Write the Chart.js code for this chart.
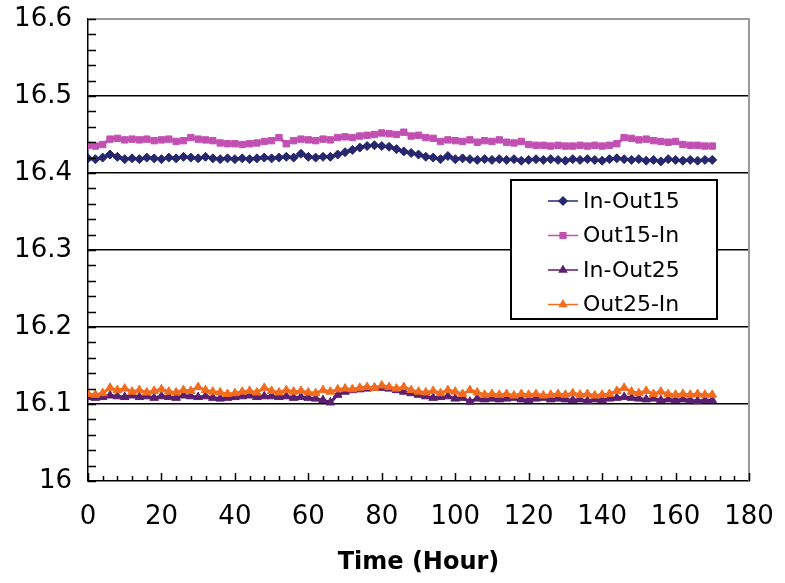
<!DOCTYPE html>
<html>
<head>
<meta charset="utf-8">
<script src="https://cdn.jsdelivr.net/npm/chart.js@4.4.1/dist/chart.umd.min.js"></script>
<style>
  html, body { margin: 0; padding: 0; background: #fff; }
  #wrap { position: relative; width: 785px; height: 583px; }
</style>
</head>
<body>
<div id="wrap"><canvas id="timeChart" width="785" height="583"></canvas></div>
<script>
// 时间轴（小时）
const hours = [
  0, 2, 4, 6, 8, 10, 12, 14, 16, 18, 20, 22, 24, 26, 28, 30, 32, 34, 36, 38,
  40, 42, 44, 46, 48, 50, 52, 54, 56, 58, 60, 62, 64, 66, 68, 70, 72, 74, 76, 78,
  80, 82, 84, 86, 88, 90, 92, 94, 96, 98, 100, 102, 104, 106, 108, 110, 112, 114, 116, 118,
  120, 122, 124, 126, 128, 130, 132, 134, 136, 138, 140, 142, 144, 146, 148, 150, 152, 154, 156, 158,
  160, 162, 164, 166, 168, 170
];

// 各系列数值
const inOut15 = [
  16.419, 16.418, 16.420, 16.424, 16.421, 16.418, 16.419, 16.418, 16.420, 16.419,
  16.418, 16.420, 16.419, 16.421, 16.420, 16.419, 16.421, 16.419, 16.418, 16.419,
  16.418, 16.419, 16.418, 16.419, 16.420, 16.419, 16.420, 16.421, 16.420, 16.425,
  16.421, 16.420, 16.421, 16.421, 16.424, 16.427, 16.430, 16.433, 16.435, 16.436,
  16.435, 16.434, 16.431, 16.428, 16.426, 16.424, 16.421, 16.420, 16.418, 16.422,
  16.418, 16.419, 16.418, 16.417, 16.418, 16.417, 16.418, 16.417, 16.418, 16.416,
  16.417, 16.418, 16.417, 16.418, 16.417, 16.416, 16.418, 16.417, 16.418, 16.417,
  16.416, 16.418, 16.419, 16.418, 16.417, 16.418, 16.416, 16.417, 16.415, 16.418,
  16.417, 16.416, 16.417, 16.416, 16.417, 16.417
];
const out15In = [
  16.436, 16.435, 16.437, 16.444, 16.445, 16.443, 16.444, 16.443, 16.444, 16.442,
  16.443, 16.444, 16.441, 16.442, 16.446, 16.444, 16.443, 16.442, 16.439, 16.438,
  16.438, 16.437, 16.438, 16.439, 16.441, 16.442, 16.446, 16.438, 16.442, 16.444,
  16.443, 16.442, 16.444, 16.443, 16.446, 16.447, 16.446, 16.448, 16.449, 16.450,
  16.452, 16.451, 16.450, 16.453, 16.448, 16.449, 16.446, 16.445, 16.441, 16.443,
  16.442, 16.441, 16.443, 16.440, 16.442, 16.441, 16.443, 16.440, 16.439, 16.441,
  16.437, 16.436, 16.436, 16.435, 16.436, 16.435, 16.435, 16.436, 16.435, 16.436,
  16.435, 16.436, 16.438, 16.446, 16.445, 16.443, 16.444, 16.442, 16.441, 16.440,
  16.441, 16.437, 16.436, 16.436, 16.435, 16.435
];
const inOut25 = [
  16.109, 16.108, 16.109, 16.111, 16.110, 16.109, 16.111, 16.109, 16.110, 16.108,
  16.110, 16.109, 16.108, 16.111, 16.110, 16.109, 16.110, 16.108, 16.107, 16.108,
  16.109, 16.110, 16.111, 16.109, 16.110, 16.110, 16.109, 16.110, 16.108, 16.109,
  16.108, 16.107, 16.105, 16.102, 16.112, 16.116, 16.118, 16.119, 16.120, 16.121,
  16.121, 16.120, 16.118, 16.116, 16.114, 16.112, 16.110, 16.108, 16.109, 16.110,
  16.107, 16.108, 16.103, 16.107, 16.106, 16.107, 16.106, 16.107, 16.108, 16.106,
  16.105, 16.107, 16.108, 16.106, 16.107, 16.106, 16.105, 16.106, 16.104, 16.106,
  16.105, 16.107, 16.108, 16.109, 16.108, 16.107, 16.106, 16.107, 16.105, 16.106,
  16.105, 16.106, 16.105, 16.104, 16.105, 16.105
];
const out25In = [
  16.113, 16.112, 16.114, 16.121, 16.118, 16.120, 16.116, 16.118, 16.115, 16.117,
  16.119, 16.116, 16.115, 16.118, 16.117, 16.122, 16.118, 16.116, 16.115, 16.113,
  16.114, 16.116, 16.117, 16.115, 16.121, 16.117, 16.115, 16.118, 16.116, 16.117,
  16.115, 16.114, 16.118, 16.116, 16.119, 16.120, 16.119, 16.121, 16.122, 16.121,
  16.124, 16.122, 16.120, 16.122, 16.118, 16.116, 16.115, 16.117, 16.114, 16.118,
  16.116, 16.113, 16.118, 16.115, 16.112, 16.113, 16.112, 16.113, 16.111, 16.113,
  16.112, 16.113, 16.111, 16.112, 16.113, 16.112, 16.114, 16.112, 16.113, 16.111,
  16.112, 16.113, 16.117, 16.121, 16.116, 16.114, 16.117, 16.113, 16.116, 16.113,
  16.112, 16.113, 16.112, 16.113, 16.112, 16.112
];

// 坐标轴刻度
const yTicks = [16, 16.1, 16.2, 16.3, 16.4, 16.5, 16.6];
const xTicks = [0, 20, 40, 60, 80, 100, 120, 140, 160, 180];

const FONT = "'DejaVu Sans', Verdana, sans-serif";

function toPoints(values) {
    return hours.map((h, i) => ({ x: h, y: values[i] }));
}

// 图内图例 + 向内的刻度线 + 灰色边框
const plotDecor = {
    id: 'plotDecor',
    afterDraw(chart) {
        const ctx = chart.ctx;
        const area = chart.chartArea;
        const xs = chart.scales.x;
        const ys = chart.scales.y;

        ctx.save();
        // 右边和上边的灰线
        ctx.strokeStyle = '#9a9a9a';
        ctx.lineWidth = 2;
        ctx.beginPath();
        ctx.moveTo(area.left, area.top);
        ctx.lineTo(area.right, area.top);
        ctx.lineTo(area.right, area.bottom);
        ctx.stroke();

        // y 轴刻度线（每 0.02）
        ctx.strokeStyle = '#000';
        ctx.lineWidth = 1.5;
        ctx.beginPath();
        for (let k = 0; k <= 30; k++) {
            const py = Math.round(ys.getPixelForValue(16 + k * 0.02)) + 0.5;
            ctx.moveTo(area.left, py);
            ctx.lineTo(area.left + 8, py);
        }
        // x 轴刻度线（每 4 小时，20 为主刻度）
        for (let h = 0; h <= 180; h += 4) {
            const px = Math.round(xs.getPixelForValue(h)) + 0.5;
            const len = (h % 20 === 0) ? 8 : 5;
            ctx.moveTo(px, area.bottom);
            ctx.lineTo(px, area.bottom - len);
        }
        for (const h of xTicks) {
            const px = Math.round(xs.getPixelForValue(h)) + 0.5;
            ctx.moveTo(px, area.bottom);
            ctx.lineTo(px, area.bottom - 8);
        }
        ctx.stroke();

        // 图例
        const bx = 511, by = 180, bw = 206, bh = 139;
        ctx.fillStyle = '#fff';
        ctx.fillRect(bx, by, bw, bh);
        ctx.strokeStyle = '#000';
        ctx.lineWidth = 2;
        ctx.strokeRect(bx, by, bw, bh);

        const order = ['In-Out15', 'Out15-In', 'In-Out25', 'Out25-In'];
        ctx.font = '22px ' + FONT;
        ctx.textBaseline = 'middle';
        ctx.textAlign = 'left';
        order.forEach((name, i) => {
            const ds = chart.data.datasets.find(d => d.label === name);
            const ry = by + 21 + i * 34.5;
            ctx.strokeStyle = ds.borderColor;
            ctx.lineWidth = 1.5;
            ctx.beginPath();
            ctx.moveTo(bx + 37, ry);
            ctx.lineTo(bx + 67, ry);
            ctx.stroke();
            Chart.helpers.drawPoint(ctx, {
                pointStyle: ds.pointStyle,
                radius: 4,
                rotation: 0,
                borderWidth: 1
            }, bx + 52, ry);
            ctx.fillStyle = ds.backgroundColor;
            ctx.strokeStyle = ds.borderColor;
            ctx.fill();
            ctx.fillStyle = '#000';
            ctx.fillText(name, bx + 72, ry + 1);
        });
        ctx.restore();
    }
};

document.addEventListener('DOMContentLoaded', function() {
    const ctx = document.getElementById('timeChart').getContext('2d');

    // 数组顺序反过来，让 Out25-In 画在最上层
    const timeChart = new Chart(ctx, {
        type: 'line',
        data: {
            datasets: [
                {
                    label: 'Out25-In',
                    data: toPoints(out25In),
                    borderColor: '#f26c1f',
                    backgroundColor: '#f26c1f',
                    pointStyle: 'triangle',
                    pointRadius: 5
                },
                {
                    label: 'In-Out25',
                    data: toPoints(inOut25),
                    borderColor: '#5b1f6f',
                    backgroundColor: '#5b1f6f',
                    pointStyle: 'triangle',
                    pointRadius: 5
                },
                {
                    label: 'Out15-In',
                    data: toPoints(out15In),
                    borderColor: '#c150b2',
                    backgroundColor: '#c150b2',
                    pointStyle: 'rect',
                    pointRadius: 4.5
                },
                {
                    label: 'In-Out15',
                    data: toPoints(inOut15),
                    borderColor: '#27276f',
                    backgroundColor: '#27276f',
                    pointStyle: 'rectRot',
                    pointRadius: 4.5
                }
            ]
        },
        options: {
            responsive: false,
            animation: false,
            layout: {
                padding: { top: 19, right: 36, bottom: 6, left: 0 }
            },
            elements: {
                line: { borderWidth: 3, tension: 0 },
                point: { borderWidth: 1, hoverRadius: 5 }
            },
            scales: {
                x: {
                    type: 'linear',
                    min: 0,
                    max: 180,
                    afterBuildTicks: scale => {
                        scale.ticks = xTicks.map(v => ({ value: v }));
                    },
                    grid: { display: false, drawTicks: false },
                    border: { display: true, color: '#000', width: 1.5 },
                    ticks: {
                        color: '#000',
                        padding: 21,
                        maxRotation: 0,
                        font: { family: FONT, size: 26 }
                    },
                    title: {
                        display: true,
                        text: 'Time (Hour)',
                        color: '#000',
                        padding: { top: 4, bottom: 0 },
                        font: { family: FONT, size: 24, weight: 'bold' }
                    },
                    afterFit: scale => {
                        scale.height = 96;
                        scale.paddingLeft = 0;
                        scale.paddingRight = 0;
                    }
                },
                y: {
                    type: 'linear',
                    min: 16,
                    max: 16.6,
                    afterBuildTicks: scale => {
                        scale.ticks = yTicks.map(v => ({ value: v }));
                    },
                    grid: {
                        drawTicks: false,
                        lineWidth: 1.5,
                        color: c => {
                            const v = c.tick ? c.tick.value : 0;
                            if (v <= 16.001 || v >= 16.599) return 'rgba(0,0,0,0)';
                            return '#000';
                        }
                    },
                    border: { display: true, color: '#000', width: 1.5 },
                    ticks: {
                        color: '#000',
                        padding: 16,
                        font: { family: FONT, size: 26 },
                        callback: v => String(+v.toFixed(1))
                    },
                    afterFit: scale => {
                        scale.width = 88;
                        scale.paddingTop = 0;
                        scale.paddingBottom = 0;
                    }
                }
            },
            plugins: {
                legend: { display: false },
                tooltip: { enabled: false }
            }
        },
        plugins: [plotDecor]
    });
});
</script>
</body>
</html>
